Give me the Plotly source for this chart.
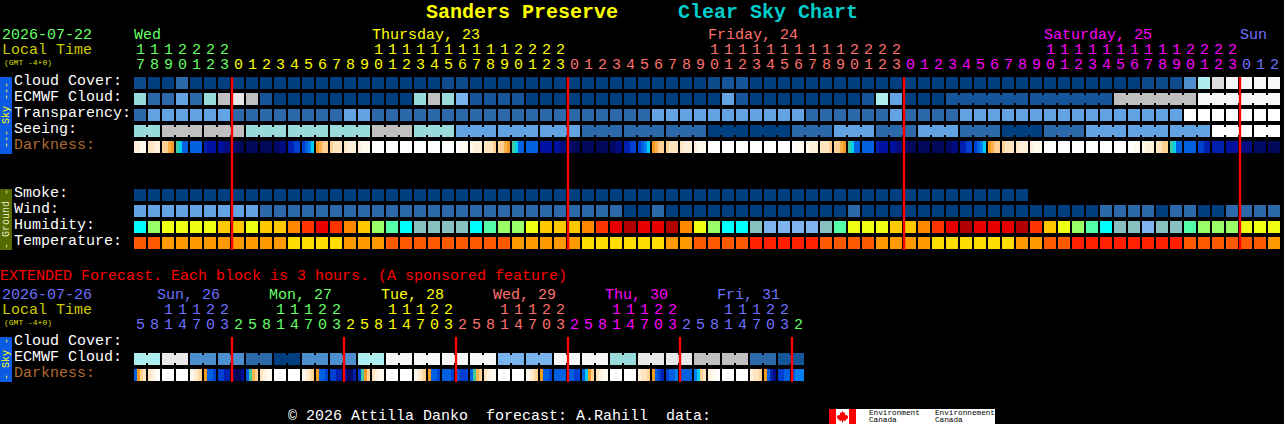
import plotly.graph_objects as go

# ---------- palette categories (cloud / transparency / seeing scale) ----------
SKY_LEVELS = ["#003f7f", "#0d4b8b", "#15559a", "#2c69a8", "#4d8ecf", "#62a3e3", "#79b4ef",
              "#99dada", "#aeeeee", "#c0c0c0", "#dddddd", "#e8e8e8", "#f7f7f7", "#ffffff"]
D, S, E, B, M, L, P, T, C, G, H, I, V, W = range(14)

cloud_cover = [S, D, D, B, D, D, D] + [D] * 15 + [S, S] + [D] * 17 + [S, E, E] + [D] * 28 + [S, S, S, M, C, H, V, V, V, V]
ecmwf_cloud = [T, B, B, L, B, T, G, I, G, E] + [D] * 10 + [T, G, T, P, E, E, E, E] + [D] * 14 + [L, E] + [D] * 8 + [E, C, L, D, D, D] + [E] * 12 + [G] * 6 + [V] * 6
transparency = [B] + [L] * 6 + [B] * 8 + [L, L] + [B] * 20 + [L] * 11 + [B] * 6 + [L] + [B] * 4 + [L] * 16 + [W] * 7
seeing = [T, T] + [G] * 6 + [T] * 9 + [G] * 3 + [T] * 3 + [L] * 9 + [B] * 9 + [D] * 6 + [B] * 3 + [L] * 3 + [B] * 3 + [L] * 3 + [B] * 3 + [D] * 3 + [B] * 3 + [L] * 9 + [W] * 5
smoke = [D] * 64
wind = [L] * 9 + [B] * 26 + [D, D, B] + [D] * 13 + [B] + [D] * 17 + [B] * 4 + [D] + [B, B] + [D, D] + [B] * 4
ext_cloud = [C, C, I, I, M, M, M, M, B, B, D, D, M, M, M, M, C, C, V, V, V, V, V, V,
             V, V, P, P, P, P, V, V, V, V, T, T, I, I, I, I, G, G, G, G, B, B, E, E]

# connected blocks (index of the left cell of each joined pair)
ecmwf_joins = list(range(58, 63)) + list(range(64, 69)) + list(range(70, 75)) + list(range(76, 81))
seeing_joins = [0, 2, 3, 5, 6, 8, 9, 11, 12, 14, 15, 17, 18, 20, 21, 23, 24, 26, 27, 29, 30, 32, 33, 35, 36,
                38, 39, 41, 42, 44, 45, 47, 48, 50, 51, 53, 54, 56, 57, 59, 60, 62, 63, 65, 66, 68, 69, 71, 72,
                74, 75, 77, 78, 80]
ext_joins = list(range(0, 48, 2))

# ---------- ground scales ----------
HUM = ["#00ffff", "#55ffaa", "#99ff66", "#eeff11", "#ffc800", "#ff8800", "#ff3300", "#e80000", "#b00000", "#88c0c0", "#7fb2f0"]
hum_c, hum_g, hum_l, hum_y, hum_a, hum_o, hum_r, hum_R, hum_K, hum_t, hum_b = range(11)
humidity = [hum_c, hum_l, hum_y, hum_y, hum_y, hum_y, hum_a, hum_a, hum_y, hum_a, hum_a, hum_o, hum_r, hum_R, hum_r,
            hum_o, hum_a, hum_l, hum_g, hum_c, hum_t, hum_t, hum_t, hum_t, hum_c, hum_g, hum_l, hum_l, hum_y, hum_a,
            hum_a, hum_a, hum_o, hum_r, hum_R, hum_K, hum_R, hum_R, hum_K, hum_o, hum_y, hum_l, hum_c, hum_c, hum_t,
            hum_b, hum_b, hum_b, hum_b, hum_t, hum_g, hum_y, hum_y, hum_y, hum_a, hum_a, hum_o, hum_r, hum_R, hum_K,
            hum_R, hum_R, hum_R, hum_K, hum_r, hum_a, hum_y, hum_l, hum_g, hum_c, hum_t, hum_t, hum_b, hum_t, hum_t,
            hum_g, hum_l, hum_l, hum_l, hum_y, hum_y, hum_y]
TEMP = ["#ff5a00", "#ff9900", "#ffdd00", "#ff2000"]
t_o, t_a, t_y, t_r = range(4)
temperature = [t_o, t_o, t_a, t_a, t_a, t_a, t_a, t_a, t_a, t_a, t_a, t_y, t_y, t_y, t_y, t_a, t_a, t_a, t_o, t_o,
               t_o, t_o, t_o, t_o, t_o, t_o, t_o, t_a, t_a, t_a, t_a, t_a, t_y, t_y, t_y, t_y, t_y, t_y, t_a, t_a,
               t_o, t_o, t_o, t_o, t_r, t_r, t_r, t_r, t_r, t_o, t_o, t_o, t_o, t_a, t_a, t_a, t_a, t_y, t_y, t_y,
               t_y, t_y, t_y, t_a, t_a, t_o, t_o, t_r, t_r, t_r, t_r, t_r, t_r, t_r, t_r, t_o, t_o, t_o, t_o, t_o,
               t_o, t_a]

# ---------- darkness ramp, 4 samples per cell ----------
DARK = ["#ffffff", "#fffaf0", "#fff0dc", "#ffe4c0", "#ffd090", "#fbb04c", "#f59a20", "#40c8a0", "#00d0f0",
        "#0080f0", "#0060e0", "#0040d0", "#0020b0", "#0010a0", "#000c80", "#000a66", "#00085a"]
darkness = [
    [2, 2, 1, 1], [3, 3, 2, 2], [4, 4, 5, 6], [7, 8, 10, 10], [10, 10, 10, 10], [12, 13, 13, 13], [13, 13, 14, 14],
    [15, 15, 16, 16], [16, 16, 16, 16], [16, 16, 16, 16], [15, 15, 14, 14], [12, 12, 11, 11], [11, 10, 9, 8],
    [6, 5, 4, 4], [4, 3, 3, 3], [3, 2, 2, 2], [2, 1, 1, 1], [0, 0, 0, 0], [0, 0, 0, 0], [0, 0, 0, 0], [0, 0, 0, 0],
    [0, 0, 0, 0], [0, 0, 0, 0], [0, 1, 1, 1], [1, 2, 2, 2], [3, 3, 3, 4], [4, 4, 5, 6], [7, 8, 10, 10],
    [10, 10, 10, 10], [13, 13, 13, 13], [13, 13, 14, 14], [15, 15, 16, 16], [16, 16, 16, 16], [16, 16, 16, 16],
    [15, 15, 14, 14], [12, 12, 11, 11], [11, 10, 9, 8], [6, 5, 4, 4], [4, 3, 3, 3], [3, 2, 2, 2], [2, 1, 1, 1],
    [0, 0, 0, 0], [0, 0, 0, 0], [0, 0, 0, 0], [0, 0, 0, 0], [0, 0, 0, 0], [0, 0, 0, 0], [0, 1, 1, 1], [1, 2, 2, 2],
    [3, 3, 3, 4], [4, 4, 5, 6], [7, 8, 10, 10], [10, 10, 10, 10], [12, 13, 13, 13], [13, 13, 14, 14],
    [15, 15, 16, 16], [16, 16, 16, 16], [16, 16, 16, 16], [15, 15, 14, 14], [12, 12, 11, 11], [11, 10, 9, 8],
    [6, 5, 4, 4], [4, 3, 3, 3], [3, 2, 2, 2], [2, 1, 1, 1], [0, 0, 0, 0], [0, 0, 0, 0], [0, 0, 0, 0], [0, 0, 0, 0],
    [0, 0, 0, 0], [0, 0, 0, 0], [0, 0, 1, 1], [1, 2, 2, 2], [3, 3, 4, 4], [7, 8, 10, 10], [10, 10, 10, 10],
    [11, 11, 12, 12], [12, 12, 12, 12], [13, 13, 13, 13], [14, 14, 14, 14], [15, 15, 15, 15], [16, 16, 16, 16],
]
ext_darkness = [
    [10, 6, 4, 3], [3, 2, 1, 0], [0, 0, 0, 0], [0, 0, 0, 0], [1, 2, 3, 4], [6, 10, 10, 11], [11, 11, 12, 12],
    [15, 16, 16, 13], [10, 7, 5, 4], [3, 2, 1, 1], [0, 0, 0, 0], [0, 0, 0, 0], [1, 2, 3, 4], [6, 10, 10, 11],
    [11, 11, 12, 12], [13, 15, 15, 12], [11, 7, 6, 4], [3, 2, 1, 1], [0, 0, 0, 0], [0, 0, 0, 0], [1, 2, 3, 4],
    [6, 10, 10, 11], [10, 10, 10, 11], [10, 11, 11, 11], [10, 7, 5, 4], [3, 2, 1, 1], [0, 0, 0, 0], [0, 0, 0, 0],
    [1, 2, 3, 4], [6, 10, 10, 11], [10, 10, 10, 10], [10, 10, 11, 11], [10, 8, 6, 4], [3, 2, 1, 1], [0, 0, 0, 0],
    [0, 0, 0, 0], [2, 3, 3, 4], [6, 10, 11, 12], [11, 10, 10, 9], [10, 10, 10, 10], [9, 8, 4, 3], [2, 1, 1, 0],
    [0, 0, 0, 0], [0, 0, 0, 0], [2, 3, 3, 4], [6, 10, 12, 14], [11, 11, 10, 10], [10, 9, 9, 9],
]

# ---------- text ----------
HOUR_COLORS = {"wed": "#66ff66", "thu": "#ffff00", "fri": "#ff7070", "sat": "#ff00ff", "sun": "#7070ff"}
hour_cols = ["wed"] * 7 + ["thu"] * 24 + ["fri"] * 24 + ["sat"] * 24 + ["sun"] * 3
hours_units = [7, 8, 9, 0, 1, 2, 3] + [0, 1, 2, 3, 4, 5, 6, 7, 8, 9] * 2 + [0, 1, 2, 3] + \
              [0, 1, 2, 3, 4, 5, 6, 7, 8, 9] * 2 + [0, 1, 2, 3] + [0, 1, 2, 3, 4, 5, 6, 7, 8, 9] * 2 + [0, 1, 2, 3] + [0, 1, 2]
hours_tens = ["1", "1", "1", "2", "2", "2", "2"] + [""] * 10 + ["1"] * 10 + ["2"] * 4 + [""] * 10 + ["1"] * 10 + \
             ["2"] * 4 + [""] * 10 + ["1"] * 10 + ["2"] * 4 + [""] * 3
day_labels = [(0, "Wed", "wed"), (17, "Thursday, 23", "thu"), (41, "Friday, 24", "fri"), (65, "Saturday, 25", "sat"), (79, "Sun", "sun")]

ext_hours_units = [5, 8, 1, 4, 7, 0, 3, 2] * 6
ext_hours_tens = ["", "", "1", "1", "1", "2", "2", ""] * 6
ext_cols = ["sun"] * 7 + ["wed"] * 8 + ["thu"] * 8 + ["fri"] * 8 + ["sat"] * 8 + ["sun"] * 8 + ["wed"]
ext_day_labels = [(1.5, "Sun, 26", "sun"), (9.5, "Mon, 27", "wed"), (17.5, "Tue, 28", "thu"), (25.5, "Wed, 29", "fri"), (33.5, "Thu, 30", "sat"), (41.5, "Fri, 31", "sun")]

row_labels = [("Cloud Cover:", 81), ("ECMWF Cloud:", 97), ("Transparency:", 113), ("Seeing:", 129), ("Smoke:", 193), ("Wind:", 209), ("Humidity:", 225), ("Temperature:", 241)]
ext_row_labels = [("Cloud Cover:", 341), ("ECMWF Cloud:", 357)]

midnights = [7, 31, 55, 79]
ext_midnights = [7, 15, 23, 31, 39, 47]

# ---------- figure: x axis is the hour slot (14 px), y axis is the image row in px ----------
W_PX, H_PX = 1284, 424
PX = 14.0
X0 = 133.0  # left edge of slot 0


def slot(px):
    return (px - X0) / PX


fig = go.Figure()


def discrete_scale(colors):
    n = len(colors)
    out = []
    for k, c in enumerate(colors):
        out += [[k / n, c], [(k + 1) / n, c]]
    return out


def add_row(values, colors, top, joins=()):
    """One row of 12x12 px cells, 2 px gap, plus 8 px high bridges between joined cells."""
    n = len(values)
    scale = discrete_scale(colors)
    edges = []
    z = []
    for i in range(n):
        edges += [i + 1 / PX, i + 13 / PX]
        z.append(values[i])
        if i < n - 1:
            z.append(None)
    fig.add_trace(go.Heatmap(x=edges, y=[top, top + 12], z=[z], colorscale=scale, zmin=-0.5, zmax=len(colors) - 0.5,
                             showscale=False, hoverinfo="skip"))
    if joins:
        bx, bz = [], []
        for i in range(n - 1):
            bx.append(i + 13 / PX)
            bx.append(i + 15 / PX)
            bz.append(values[i] if i in joins else None)
            if i < n - 2:
                bz.append(None)
        fig.add_trace(go.Heatmap(x=bx, y=[top + 2, top + 10], z=[bz], colorscale=scale, zmin=-0.5, zmax=len(colors) - 0.5,
                                 showscale=False, hoverinfo="skip"))


def add_dark_row(cells, top):
    edges, z = [], []
    for i, samples in enumerate(cells):
        for k in range(4):
            edges.append(i + (1 + 3 * k) / PX)
            z.append(samples[k])
        edges.append(i + 13 / PX)
        if i < len(cells) - 1:
            z.append(None)
    fig.add_trace(go.Heatmap(x=edges, y=[top, top + 12], z=[z], colorscale=discrete_scale(DARK), zmin=-0.5,
                             zmax=len(DARK) - 0.5, showscale=False, hoverinfo="skip"))


add_row(cloud_cover, SKY_LEVELS, 77)
add_row(ecmwf_cloud, SKY_LEVELS, 93, ecmwf_joins)
add_row(transparency, SKY_LEVELS, 109)
add_row(seeing, SKY_LEVELS, 125, seeing_joins)
add_dark_row(darkness, 141)
add_row(smoke, SKY_LEVELS, 189)
add_row(wind, SKY_LEVELS, 205)
add_row(humidity, HUM, 221)
add_row(temperature, TEMP, 237)
add_row(ext_cloud, SKY_LEVELS, 353, ext_joins)
add_dark_row(ext_darkness, 369)

for m in midnights:
    fig.add_trace(go.Scatter(x=[m + 1 / PX, m + 1 / PX], y=[77, 250], mode="lines", line=dict(color="#ff0000", width=2.4), hoverinfo="skip"))
for m in ext_midnights:
    fig.add_trace(go.Scatter(x=[m + 1 / PX, m + 1 / PX], y=[337, 382], mode="lines", line=dict(color="#ff0000", width=2.4), hoverinfo="skip"))

MONO = "Liberation Mono"


def txt(px, py, s, color, size=15, anchor="left", bold=False, angle=0, yanchor="middle"):
    fig.add_annotation(x=slot(px), y=py, text=("<b>%s</b>" % s) if bold else s, showarrow=False, xanchor=anchor, yanchor=yanchor,
                       textangle=angle, font=dict(family=MONO, size=size, color=color), xref="x", yref="y", borderpad=0, borderwidth=0)


def col_txt(col, py, s, color, size=15):
    fig.add_annotation(x=col + 0.5, y=py, text=s, showarrow=False, xanchor="center", yanchor="middle",
                       font=dict(family=MONO, size=size, color=color), xref="x", yref="y", borderpad=0)


txt(426, 12, "Sanders Preserve", "#ffff00", 20, bold=True)
txt(678, 12, "Clear Sky Chart", "#00cccc", 20, bold=True)
txt(2, 35, "2026-07-22", "#66ff66")
txt(2, 50, "Local Time", "#cccc00")
txt(4, 62, "(GMT -4+0)", "#dddd00", 8)
for col, s, key in day_labels:
    txt(134 + 14 * col, 35, s, HOUR_COLORS[key])
for i, (u, t) in enumerate(zip(hours_units, hours_tens)):
    if t:
        col_txt(i, 50, t, HOUR_COLORS[hour_cols[i]])
    col_txt(i, 65, str(u), HOUR_COLORS[hour_cols[i]])
for s, y in row_labels:
    txt(14, y, s, "#ffffff")
txt(14, 145, "Darkness:", "#b06a30")

txt(0, 276, "EXTENDED Forecast. Each block is 3 hours. (A sponsored feature)", "#ff0000")
txt(2, 295, "2026-07-26", "#7070ff")
txt(2, 310, "Local Time", "#cccc00")
txt(4, 322, "(GMT -4+0)", "#dddd00", 8)
for col, s, key in ext_day_labels:
    txt(134 + 14 * col + 2, 295, s, HOUR_COLORS[key])
for i, (u, t) in enumerate(zip(ext_hours_units, ext_hours_tens)):
    if t:
        col_txt(i, 310, t, HOUR_COLORS[ext_cols[i]])
    col_txt(i, 325, str(u), HOUR_COLORS[ext_cols[i]])
for s, y in ext_row_labels:
    txt(14, y, s, "#ffffff")
txt(14, 373, "Darkness:", "#b06a30")

txt(288, 416, "\u00a9 2026 Attilla Danko  forecast: A.Rahill  data:", "#ffffff")

# side bands
shapes = []
for y0, y1, c in [(77, 154, "#0a5ae6"), (189, 250, "#556b00"), (337, 382, "#0a5ae6")]:
    shapes.append(dict(type="rect", xref="x", yref="y", x0=slot(0), x1=slot(12), y0=y0, y1=y1, fillcolor=c, line_width=0, layer="below"))
# logo
shapes.append(dict(type="rect", xref="x", yref="y", x0=slot(829), x1=slot(995), y0=409, y1=424, fillcolor="#ffffff", line_width=0, layer="below"))
shapes.append(dict(type="rect", xref="x", yref="y", x0=slot(829), x1=slot(836), y0=409, y1=424, fillcolor="#ff0000", line_width=0, layer="below"))
shapes.append(dict(type="rect", xref="x", yref="y", x0=slot(849), x1=slot(856), y0=409, y1=424, fillcolor="#ff0000", line_width=0, layer="below"))
leaf = [(0, -5.5), (1.4, -3.4), (2.8, -3.9), (2.3, -1), (3.8, -2), (4.3, -0.8), (5.8, -1), (5.3, 1), (5.8, 1.5), (3, 3.4),
        (3.3, 4.4), (0.5, 3.9), (0.5, 6), (-0.5, 6), (-0.5, 3.9), (-3.3, 4.4), (-3, 3.4), (-5.8, 1.5), (-5.3, 1), (-5.8, -1),
        (-4.3, -0.8), (-3.8, -2), (-2.3, -1), (-2.8, -3.9), (-1.4, -3.4)]
path = "M " + " L ".join(f"{slot(842.5 + dx):.4f},{416.5 + dy}" for dx, dy in leaf) + " Z"
shapes.append(dict(type="path", xref="x", yref="y", path=path, fillcolor="#ff0000", line_width=0, layer="below"))

txt(6, 115, "--- Sky ---", "#ffff00", 10, anchor="center", angle=-90)
txt(6, 219, "- Ground -", "#e8e8c0", 10, anchor="center", angle=-90)
txt(6, 359, "- Sky -", "#ffff00", 10, anchor="center", angle=-90)
txt(869, 413, "Environment", "#000000", 7.7)
txt(869, 420, "Canada", "#000000", 7.7)
txt(935, 413, "Environnement", "#000000", 7.7)
txt(935, 420, "Canada", "#000000", 7.7)

fig.update_layout(
    width=W_PX, height=H_PX, autosize=False, margin=dict(l=0, r=0, t=0, b=0), paper_bgcolor="#000000", plot_bgcolor="#000000",
    showlegend=False, shapes=shapes,
    xaxis=dict(range=[slot(0), slot(W_PX)], visible=False, fixedrange=True),
    yaxis=dict(range=[H_PX, 0], visible=False, fixedrange=True),
)
fig.write_html("out.html", config={"displayModeBar": False},
               post_script="document.body.style.margin='0';document.documentElement.style.overflow='hidden';")
